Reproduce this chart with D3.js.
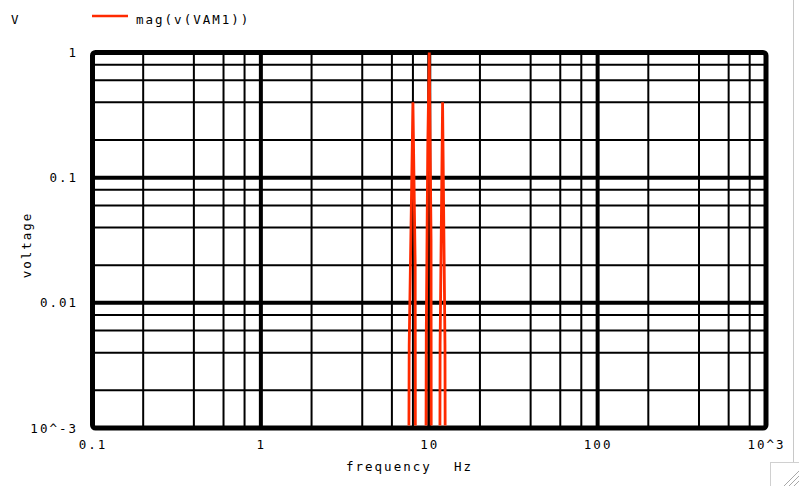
<!DOCTYPE html>
<html>
<head>
<meta charset="utf-8">
<script src="https://cdn.jsdelivr.net/npm/d3@7"></script>
<style>
  html, body { margin: 0; padding: 0; background: #fff; }
  svg { display: block; }
  text { font-family: "DejaVu Sans Mono", "Liberation Mono", monospace; font-size: 12.5px; letter-spacing: 2px; fill: #000; }
</style>
</head>
<body>
<svg id="chart" width="799" height="486"></svg>
<script>
// ---- data ----
const seriesName = "mag(v(VAM1))";
const freq = [0.1, 7.2, 7.6, 8.0, 8.25, 8.4, 9.2, 9.6, 9.8, 10.0, 10.25, 10.4, 11.2, 11.6, 12.0, 12.4, 12.8, 1000];
const mag  = [1e-12, 1e-12, 0.0046, 0.40, 0.02, 1e-12, 1e-12, 0.0055, 0.18, 1.0, 0.032, 1e-12, 1e-12, 0.0046, 0.40, 0.0046, 1e-12, 1e-12];
const xTickValues = [0.1, 1, 10, 100, 1000];
const xTickLabels = ["0.1", "1", "10", "100", "10^3"];
const yTickValues = [0.001, 0.01, 0.1, 1];
const yTickLabels = ["10^-3", "0.01", "0.1", "1"];
const minorMultipliers = [2, 4, 6, 8];

// ---- layout ----
const svg = d3.select("#chart");
const x = d3.scaleLog().domain([0.1, 1000]).range([92.5, 766]);
const y = d3.scaleLog().domain([0.001, 1]).range([428, 52.5]);
const red = "#ff2a00";

// minor grid
const xMinor = [], yMinor = [];
for (let i = 0; i < xTickValues.length - 1; i++) minorMultipliers.forEach(m => xMinor.push(xTickValues[i] * m));
for (let i = 0; i < yTickValues.length - 1; i++) minorMultipliers.forEach(m => yMinor.push(yTickValues[i] * m));

const grid = svg.append("g");
grid.selectAll(".xm").data(xMinor).join("line")
  .attr("x1", d => x(d)).attr("x2", d => x(d))
  .attr("y1", y.range()[1]).attr("y2", y.range()[0])
  .attr("stroke", "#000").attr("stroke-width", 2);
grid.selectAll(".ym").data(yMinor).join("line")
  .attr("y1", d => y(d)).attr("y2", d => y(d))
  .attr("x1", x.range()[0]).attr("x2", x.range()[1])
  .attr("stroke", "#000").attr("stroke-width", 2);
// major grid
grid.selectAll(".xM").data(xTickValues.slice(1, -1)).join("line")
  .attr("x1", d => x(d)).attr("x2", d => x(d))
  .attr("y1", y.range()[1]).attr("y2", y.range()[0])
  .attr("stroke", "#000").attr("stroke-width", 4);
grid.selectAll(".yM").data(yTickValues.slice(1, -1)).join("line")
  .attr("y1", d => y(d)).attr("y2", d => y(d))
  .attr("x1", x.range()[0]).attr("x2", x.range()[1])
  .attr("stroke", "#000").attr("stroke-width", 4);

// frame
svg.append("rect")
  .attr("x", x.range()[0]).attr("y", y.range()[1])
  .attr("width", x.range()[1] - x.range()[0]).attr("height", y.range()[0] - y.range()[1])
  .attr("rx", 3).attr("fill", "none").attr("stroke", "#000").attr("stroke-width", 5);

// trace
svg.append("clipPath").attr("id", "clip").append("rect")
  .attr("x", x.range()[0]).attr("y", y.range()[1] - 2)
  .attr("width", x.range()[1] - x.range()[0]).attr("height", y.range()[0] - y.range()[1] - 0.5);
const pts = freq.map((f, i) => [f, mag[i]]);
svg.append("path")
  .attr("clip-path", "url(#clip)")
  .attr("d", d3.line().x(d => x(d[0])).y(d => y(d[1]))(pts))
  .attr("fill", "none").attr("stroke", red).attr("stroke-width", 2.8)
  .attr("stroke-linejoin", "miter");

// x axis labels
const xAxis = d3.axisBottom(x).tickValues(xTickValues)
  .tickFormat((d, i) => xTickLabels[i]).tickSize(0).tickPadding(0);
const gx = svg.append("g").attr("transform", "translate(0,440)").call(xAxis);
gx.select(".domain").remove();
gx.selectAll("text").attr("font-family", null).attr("font-size", null).attr("dy", "0.71em").attr("y", 0);

// y axis labels
const yAxis = d3.axisLeft(y).tickValues(yTickValues)
  .tickFormat((d, i) => yTickLabels[i]).tickSize(0).tickPadding(0);
const gy = svg.append("g").attr("transform", "translate(78,0)").call(yAxis);
gy.select(".domain").remove();
gy.selectAll("text").attr("font-family", null).attr("font-size", null).attr("x", 0);

// axis titles
svg.append("text").attr("x", 346).attr("y", 471).text("frequency");
svg.append("text").attr("x", 454).attr("y", 471).text("Hz");
svg.append("text").attr("transform", "translate(31,245) rotate(-90)")
  .attr("text-anchor", "middle").text("voltage");

// unit + legend
svg.append("text").attr("x", 11).attr("y", 24).text("V");
svg.append("line").attr("x1", 92).attr("x2", 128).attr("y1", 16).attr("y2", 16)
  .attr("stroke", red).attr("stroke-width", 2.5);
svg.append("text").attr("x", 136).attr("y", 24).text(seriesName);

// window edge + resize grip
svg.append("line").attr("x1", 793.5).attr("x2", 793.5).attr("y1", 0).attr("y2", 486)
  .attr("stroke", "#c8c8c8").attr("stroke-width", 1);
svg.append("rect").attr("x", 770.5).attr("y", 462.5).attr("width", 30).attr("height", 30)
  .attr("fill", "#fff").attr("stroke", "#d0d0d0");
[0, 5, 10].forEach(o => svg.append("line")
  .attr("x1", 784 + o).attr("y1", 486).attr("x2", 799).attr("y2", 471 + o)
  .attr("stroke", "#a8a8a8").attr("stroke-width", 1));
</script>
</body>
</html>
